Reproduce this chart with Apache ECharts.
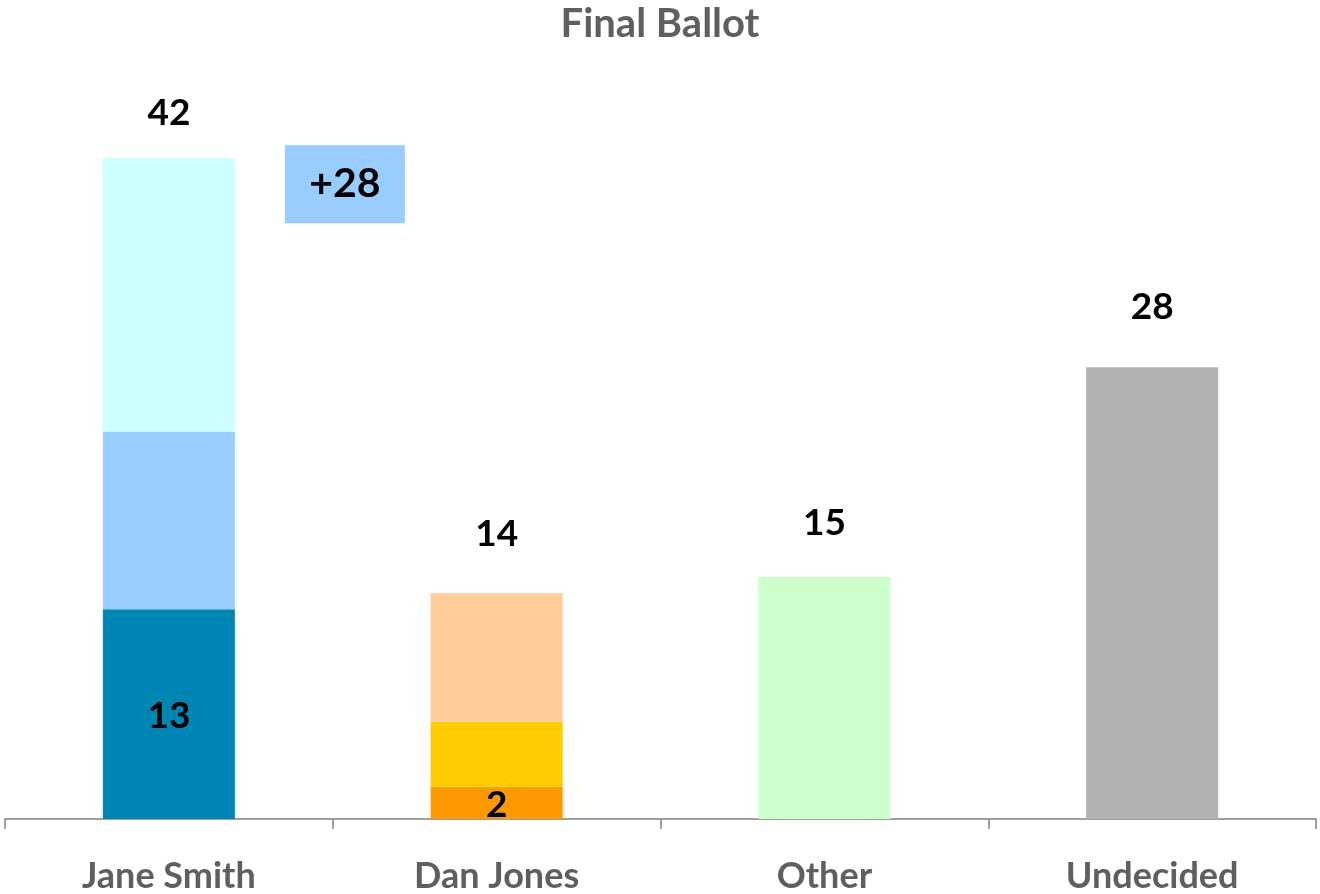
<!DOCTYPE html>
<html>
<head>
<meta charset="utf-8">
<script src="https://cdn.jsdelivr.net/npm/echarts@6/dist/echarts.min.js"></script>
<style>
html,body{margin:0;padding:0;background:#fff;}
#chart{width:1320px;height:894px;}
</style>
</head>
<body>
<div id="chart"></div>
<script>
const categories = ['Jane Smith', 'Dan Jones', 'Other', 'Undecided'];
const layer1 = [13.33, 2.05, 15.38, 28.71];
const layer2 = [11.30, 4.13, 0, 0];
const layer3 = [17.37, 8.17, 0, 0];
const layer1Colors = ['#0086B4', '#FF9900', '#CCFFCC', '#B2B2B2'];
const layer2Colors = ['#99CCFF', '#FFCC00', '#CCFFCC', '#B2B2B2'];
const layer3Colors = ['#CCFFFF', '#FFCC99', '#CCFFCC', '#B2B2B2'];
const layer1Labels = ['13', '2', '', ''];
const totalLabels = ['42', '14', '15', '28'];
const gainLabel = '+28';

const FONT = 'Lato';
const totalDist = [27, 41, 35, 42];

const chart = echarts.init(document.getElementById('chart'), null, {renderer: 'canvas'});

function mk(vals, colors, extra) {
  return vals.map((v, i) => Object.assign({value: v, itemStyle: {color: colors[i]}}, extra ? extra(i) : {}));
}

const option = {
  animation: false,
  backgroundColor: '#ffffff',
  title: {
    text: 'Final Ballot',
    left: 'center',
    top: -1,
    textStyle: {fontFamily: FONT, fontWeight: 'bold', fontSize: 40, color: '#5f5f5f'}
  },
  grid: {left: 5, right: 4, top: 111, bottom: 74, containLabel: false},
  xAxis: {
    type: 'category',
    data: categories,
    boundaryGap: true,
    axisLine: {lineStyle: {color: '#808080', width: 1.5}},
    axisTick: {show: true, length: 10, alignWithLabel: false, lineStyle: {color: '#808080', width: 1.5}},
    axisLabel: {margin: 39, fontFamily: FONT, fontWeight: 'bold', fontSize: 36, color: '#5f5f5f'}
  },
  yAxis: {type: 'value', min: 0, max: 45, show: false, splitLine: {show: false}},
  series: [
    {
      type: 'bar', stack: 'total', barWidth: 132,
      data: mk(layer1, layer1Colors),
      label: {
        show: true, position: 'inside', offset: [0, 2],
        formatter: p => layer1Labels[p.dataIndex],
        fontFamily: FONT, fontWeight: 'bold', fontSize: 37, color: '#000'
      }
    },
    {
      type: 'bar', stack: 'total', barWidth: 132,
      data: mk(layer2, layer2Colors)
    },
    {
      type: 'bar', stack: 'total', barWidth: 132,
      data: mk(layer3, layer3Colors, i => i === 0 ? {
        label: {
          show: true,
          position: [242, 26],
          formatter: gainLabel,
          align: 'center', verticalAlign: 'middle',
          backgroundColor: '#99CCFF',
          width: 120, height: 78, lineHeight: 78,
          fontFamily: FONT, fontWeight: 'bold', fontSize: 41, color: '#000'
        }
      } : {})
    },
    {
      type: 'bar', stack: 'total', barWidth: 132,
      data: categories.map((c, i) => ({
        value: 0,
        label: {show: true, position: 'top', distance: totalDist[i], formatter: totalLabels[i]}
      })),
      itemStyle: {color: 'transparent'},
      label: {fontFamily: FONT, fontWeight: 'bold', fontSize: 37, color: '#000'}
    }
  ]
};
chart.setOption(option);
</script>
</body>
</html>
